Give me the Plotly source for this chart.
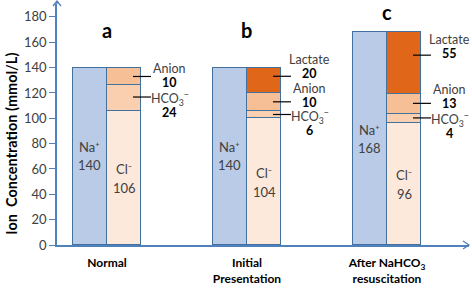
import plotly.graph_objects as go

# ---------------- data ----------------
categories = ["Normal", "Initial Presentation", "After NaHCO3 resuscitation"]
tick_text = ["<b>Normal</b>", "<b>Initial<br>Presentation</b>",
             "<b>After NaHCO<sub>3</sub><br>resuscitation</b>"]
panel_letters = ["a", "b", "c"]

# segment heights as drawn
na_values = [140, 140, 168]
cl_values = [106, 100, 96]
hco3_values = [20, 6, 7]
anion_values = [14, 14, 16]
lactate_values = [0, 20, 49]

# printed labels
na_labels = [140, 140, 168]
cl_labels = [106, 104, 96]
hco3_labels = [24, 6, 4]
anion_labels = [10, 10, 13]
lactate_labels = [None, 20, 55]

y_ticks = [0, 20, 40, 60, 80, 100, 120, 140, 160, 180]

# ---------------- style ----------------
FONT = "Lato"
TXT = "#404040"
AXIS = "#4f81bd"
EDGE = "#41719c"
W = 0.246
x_idx = list(range(len(categories)))
x_na = [i - W / 2 for i in x_idx]
x_cl = [i + W / 2 for i in x_idx]

fig = go.Figure()
line = dict(color=EDGE, width=1.5)
fig.add_trace(go.Bar(x=x_na, y=na_values, width=W, marker=dict(color="#b9cbe6", line=line), showlegend=False))
fig.add_trace(go.Bar(x=x_cl, y=cl_values, width=W, marker=dict(color="#fde9dc", line=line), showlegend=False))
fig.add_trace(go.Bar(x=x_cl, y=hco3_values, width=W, marker=dict(color="#f9cfb0", line=line), showlegend=False))
fig.add_trace(go.Bar(x=x_cl, y=anion_values, width=W, marker=dict(color="#f6bf96", line=line), showlegend=False))
fig.add_trace(go.Bar(x=x_cl, y=lactate_values, width=W, marker=dict(color="#e0671a", line=line), showlegend=False))

ann = []
shapes = []
# panel letters
letter_y = [170, 170, 183.5]
for i, L in enumerate(panel_letters):
    ann.append(dict(x=i, y=letter_y[i], text=f"<b>{L}</b>", showarrow=False,
                    font=dict(family=FONT, size=20, color="#000")))

# labels inside bars
for i in x_idx:
    ann.append(dict(x=x_na[i], y=na_values[i] / 2, yshift=9, text="Na⁺", showarrow=False,
                    font=dict(family=FONT, size=13, color=TXT)))
    ann.append(dict(x=x_na[i], y=na_values[i] / 2, yshift=-9, text=str(na_labels[i]), showarrow=False,
                    font=dict(family=FONT, size=13, color=TXT)))
    ann.append(dict(x=x_cl[i], y=cl_values[i] / 2, yshift=9, text="Cl⁻", showarrow=False,
                    font=dict(family=FONT, size=13, color=TXT)))
    ann.append(dict(x=x_cl[i], y=cl_values[i] / 2, yshift=-10, text=str(cl_labels[i]), showarrow=False,
                    font=dict(family=FONT, size=13, color=TXT)))

# side labels with leader lines
name_shift = {"hco3": [0, -2, -1], "anion": [8, 13, 15], "lactate": [0, 21, 24]}
line_shift = {"hco3": [1, 0, 1], "anion": [0, 0, 1], "lactate": [0, 4, 8]}
for i in x_idx:
    base = cl_values[i]
    segs = [("hco3", "HCO<sub>3</sub><sup>−</sup>", hco3_values[i], hco3_labels[i]),
            ("anion", "Anion", anion_values[i], anion_labels[i]),
            ("lactate", "Lactate", lactate_values[i], lactate_labels[i])]
    for key, name, h, lab in segs:
        if h and lab is not None:
            mid = base + h / 2
            shapes.append(dict(type="line", xref="x", yref="y", xsizemode="pixel", ysizemode="pixel",
                               xanchor=i, yanchor=mid, x0=26, x1=44,
                               y0=line_shift[key][i], y1=line_shift[key][i],
                               line=dict(color="#000", width=1.2)))
            ns = name_shift[key][i]
            ann.append(dict(x=i, y=mid, xshift=63, yshift=ns, text=name, showarrow=False,
                            font=dict(family=FONT, size=12.5, color=TXT)))
            ann.append(dict(x=i, y=mid, xshift=63, yshift=ns - 14, text=f"<b>{lab}</b>", showarrow=False,
                            font=dict(family=FONT, size=12.5, color="#000")))
        base += h

# y-axis title
ann.append(dict(xref="paper", x=0, xshift=-45, xanchor="center", yanchor="middle", y=80, yref="y",
                text="<b>Ion  Concentration (mmol/L)</b>",
                textangle=-90, showarrow=False, font=dict(family=FONT, size=14.5, color="#000")))

# axis arrows
shapes.append(dict(type="path", xref="paper", yref="paper", xsizemode="pixel", ysizemode="pixel",
                   xanchor=1, yanchor=0, path="M -6,4 L 0,0 L -6,-4", line=dict(color=AXIS, width=1.3)))
shapes.append(dict(type="path", xref="paper", yref="paper", xsizemode="pixel", ysizemode="pixel",
                   xanchor=0, yanchor=1, path="M 0,0 L 0,3 M -4,-2 L 0,3 L 4,-2", line=dict(color=AXIS, width=1.3)))

fig.update_layout(
    width=472, height=289,
    margin=dict(l=57, r=3, t=4, b=41),
    barmode="stack", bargap=0,
    plot_bgcolor="white", paper_bgcolor="white",
    annotations=ann, shapes=shapes,
    xaxis=dict(range=[-0.357, 2.586], tickvals=x_idx, ticktext=tick_text, showgrid=False, zeroline=False,
               showline=True, linecolor=AXIS, linewidth=1.5, ticks="", ticklabelstandoff=6,
               tickfont=dict(family=FONT, size=12, color="#000")),
    yaxis=dict(range=[0, 190.2], tickvals=y_ticks, showgrid=False, zeroline=False,
               showline=True, linecolor=AXIS, linewidth=1.5, ticks="outside", ticklen=6,
               tickcolor=AXIS, tickwidth=1.3,
               tickfont=dict(family=FONT, size=13, color=TXT)),
)
fig.write_html("out.html", config={"displayModeBar": False},
               post_script="document.body.style.margin='0';")
